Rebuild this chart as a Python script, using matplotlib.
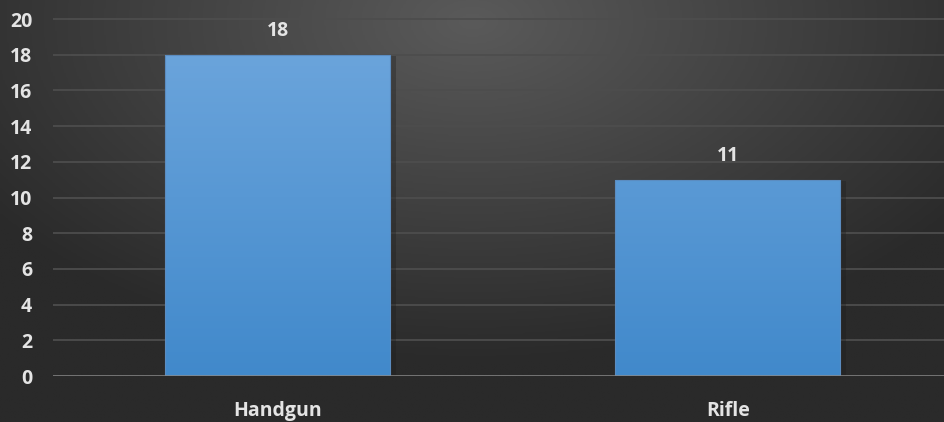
import numpy as np
import matplotlib.pyplot as plt
from matplotlib.colors import LinearSegmentedColormap

categories = ['Handgun', 'Rifle']
values = [18, 11]
yticks = [0, 2, 4, 6, 8, 10, 12, 14, 16, 18, 20]

plt.rcParams['font.family'] = ['Open Sans', 'DejaVu Sans']
txt = '#e4e4e4'
fs = 14

fig = plt.figure(figsize=(9.45, 4.22), dpi=100)

# radial background
bg = fig.add_axes([0, 0, 1, 1])
yy, xx = np.mgrid[-1:1:300j, -1:1:600j]
r = np.sqrt((xx / 1.0) ** 2 + ((yy + 0.9) / 1.3) ** 2)
bgmap = LinearSegmentedColormap.from_list('bg', ['#5a5a5a', '#2a2a2a'])
bg.imshow(r, cmap=bgmap, aspect='auto', extent=[0, 1, 0, 1], origin='upper',
          vmin=0, vmax=1.25)
bg.set_axis_off()

ymax = 20.15
ax = fig.add_axes([53 / 945, 1 - 376 / 422, 900 / 945, (357 / 422) * ymax / 20])
ax.set_facecolor('none')
x = np.arange(len(categories))
bars = ax.bar(x, values, width=0.5, color='none', edgecolor='#5b8cc0', linewidth=0.8, zorder=3)

barmap = LinearSegmentedColormap.from_list('bar', ['#6fa7dd', '#4189cb'])
grad = np.linspace(0, 1, 256).reshape(-1, 1)
for i, b in enumerate(bars):
    x0, y0 = b.get_x(), b.get_y()
    w, h = b.get_width(), b.get_height()
    # soft shadow
    ax.bar(x0 + w / 2 + 0.012, h, width=w, bottom=-0.1, color='#1e1e1e', alpha=0.35, zorder=2, linewidth=0)
    im = ax.imshow(grad, cmap=barmap, aspect='auto', extent=[x0, x0 + w, y0, y0 + 20],
                   origin='upper', zorder=2.5)
    im.set_clip_path(b)
    ax.text(x0 + w / 2, h + 0.75, str(values[i]), ha='center', va='bottom',
            color=txt, fontsize=fs, fontweight='bold')

ax.set_xlim(-0.5, 1.5)
ax.set_ylim(0, ymax)
ax.set_yticks(yticks)
ax.set_yticklabels([str(t) for t in yticks])
ax.set_xticks(x)
ax.set_xticklabels(categories)
for t in yticks[1:]:
    ax.axhline(t, color='#4d4d4d', linewidth=1.3, zorder=1)
ax.axhline(0, color='#8a8a8a', linewidth=1.8, zorder=4)
for s in ax.spines.values():
    s.set_visible(False)
ax.tick_params(axis='y', length=0, pad=15, labelcolor=txt, labelsize=fs)
ax.tick_params(axis='x', length=0, pad=18, labelcolor=txt, labelsize=fs)
for lab in ax.get_xticklabels() + ax.get_yticklabels():
    lab.set_fontweight('bold')

fig.savefig('out.png', dpi=100)
